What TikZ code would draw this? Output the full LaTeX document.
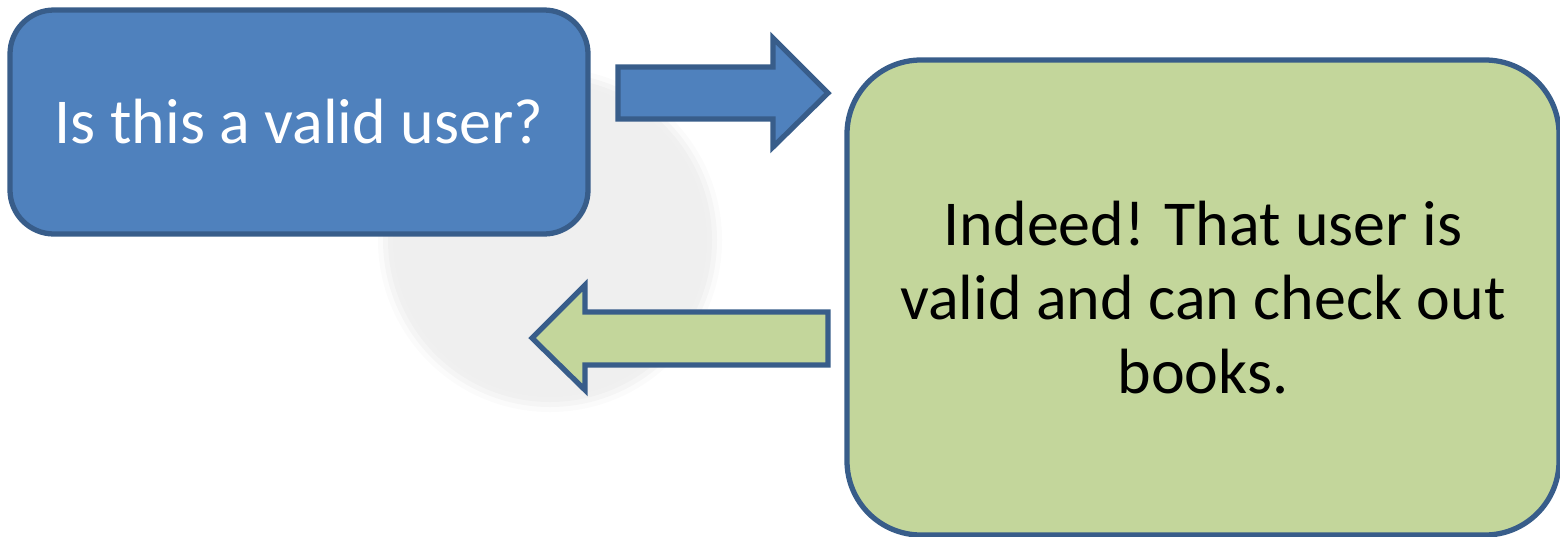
\documentclass[tikz,border=0pt]{standalone}
\usepackage{fontspec}
\setmainfont{Carlito}
\usetikzlibrary{positioning}

\definecolor{boxblue}{HTML}{4F81BD}
\definecolor{boxgreen}{HTML}{C3D69B}
\definecolor{rimblue}{HTML}{385D8A}
\definecolor{shadowgrey}{HTML}{EFEFEF}

\tikzset{
  bubble/.style={draw=rimblue, line width=1.5pt, align=center, inner sep=0pt,
    font=\fontsize{18.2}{21}\selectfont},
  blockarrow/.style={draw=rimblue, line width=1.5pt, line join=miter}
}

\begin{document}
\begin{tikzpicture}
        \useasboundingbox (0,0) rectangle (15.6,5.36);
        % soft grey disc behind the boxes
        \foreach \rad/\op in {1.72/0.25,1.67/0.5,1.62/0.8,1.57/1}
          \fill [shadowgrey, opacity=\op] (5.50,2.96) circle (\rad);
        \node [bubble, fill=boxblue, text=white, rounded corners=0.44cm,
               minimum width=5.78cm, minimum height=2.24cm] (query) at (2.99,4.14)
               {Is this a valid user?};
        \node [bubble, fill=boxgreen, text=black, rounded corners=0.74cm,
               minimum width=7.12cm, minimum height=4.75cm] (reply) at (12.03,2.385)
               {Indeed! That user is\\valid and can check out\\books.};
        % block arrows
        \draw [blockarrow, fill=boxblue] (6.18,4.69) -- (7.73,4.69) -- (7.73,4.98)
              -- (8.28,4.43) -- (7.73,3.89) -- (7.73,4.17) -- (6.18,4.17) -- cycle;
        \draw [blockarrow, fill=boxgreen] (8.28,2.24) -- (5.85,2.24) -- (5.85,2.51)
              -- (5.32,1.98) -- (5.85,1.46) -- (5.85,1.71) -- (8.28,1.71) -- cycle;
\end{tikzpicture}
\end{document}
